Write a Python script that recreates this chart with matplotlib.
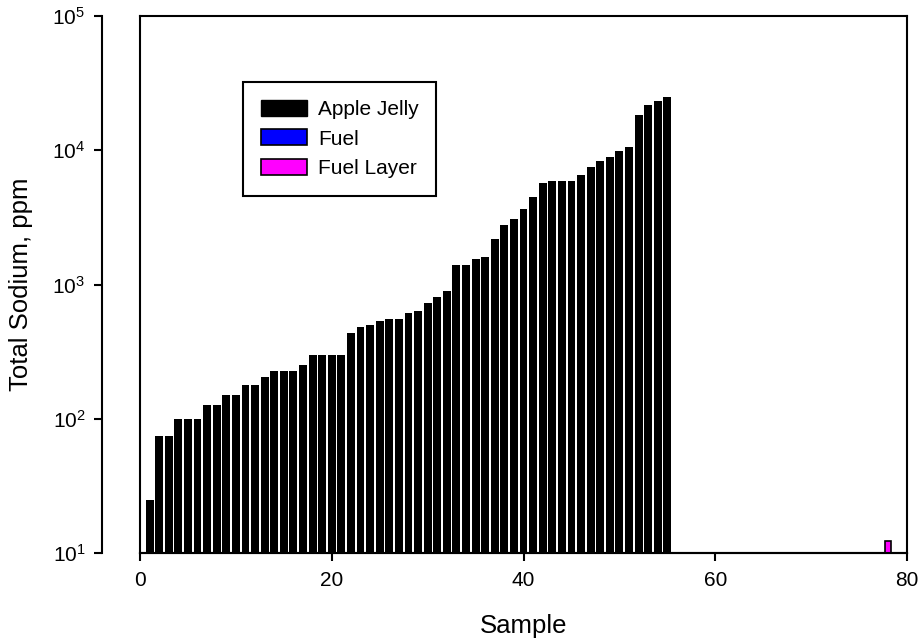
#Importing Modules
import numpy as np
import matplotlib
matplotlib.use("Agg")
import matplotlib.pyplot as plt
import matplotlib.patches as mpatches

#---------/Data/------------------------------#

#Apple jelly samples 1..55, total sodium (ppm)
jelly_x = np.arange(1, 56)
jelly_na = [25, 75, 75, 100, 100, 100, 126, 126, 150, 150,
            178, 178, 205, 227, 227, 227, 251, 298, 298, 298,
            298, 436, 482, 499, 534, 554, 554, 614, 635, 728,
            807, 895, 1400, 1400, 1550, 1600, 2180, 2780, 3080, 3650,
            4480, 5700, 5900, 5900, 5900, 6550, 7500, 8320, 8910, 9870,
            10570, 18300, 21700, 23300, 24900]

#Fuel samples (nothing above the axis floor)
fuel_x = []
fuel_na = []

#Fuel layer
layer_x = [78]
layer_na = [12.3]

#---------/Plot/------------------------------#

plt.rcParams['font.family'] = ['Liberation Sans', 'DejaVu Sans']

fig = plt.figure(figsize=(9.23, 6.4), dpi=100)
rect = [0.1517, 0.1359, 0.8310, 0.8391]

#Frame box (plain rectangle round the plot area)
frame = fig.add_axes(rect, zorder=0)
frame.set_xticks([])
frame.set_yticks([])
frame.patch.set_visible(False)
for s in frame.spines.values():
    s.set_linewidth(1.5)

ax = fig.add_axes(rect, zorder=1)
ax.patch.set_visible(False)

ax.bar(jelly_x, jelly_na, width=0.82, color="black")
if len(fuel_x) > 0:
    ax.bar(fuel_x, fuel_na, width=0.82, color="blue", edgecolor="black")
ax.bar(layer_x, layer_na, width=0.7, color="#ff00ff", edgecolor="black", linewidth=1.2)

ax.set_yscale("log")
ax.set_ylim(10, 1e5)
ax.set_xlim(0, 80)
ax.set_xticks([0, 20, 40, 60, 80])
ax.yaxis.set_minor_locator(matplotlib.ticker.NullLocator())

#SigmaPlot style: y axis pulled away from the frame
ax.spines["top"].set_visible(False)
ax.spines["right"].set_visible(False)
ax.spines["left"].set_position(("outward", 27.4))
ax.spines["left"].set_linewidth(1.5)
ax.spines["bottom"].set_linewidth(1.5)
ax.tick_params(direction="out", length=6, width=1.5, labelsize=15, pad=6)
ax.tick_params(axis="x", pad=7)

ax.set_xlabel("Sample", fontsize=18.5, labelpad=17)
ax.set_ylabel("Total Sodium, ppm", fontsize=18.5, labelpad=14)

#Legend
handles = [mpatches.Patch(facecolor="black", edgecolor="black", label="Apple Jelly"),
           mpatches.Patch(facecolor="blue", edgecolor="black", linewidth=1.2, label="Fuel"),
           mpatches.Patch(facecolor="#ff00ff", edgecolor="black", linewidth=1.2, label="Fuel Layer")]
leg = ax.legend(handles=handles, loc="upper left", bbox_to_anchor=(0.134, 0.877),
                fontsize=15, fancybox=False, framealpha=1, edgecolor="black",
                handlelength=2.25, handleheight=0.8, handletextpad=0.5,
                borderpad=0.85, labelspacing=0.5, borderaxespad=0)
leg.get_frame().set_linewidth(1.5)

plt.savefig("out.png", dpi=100)
